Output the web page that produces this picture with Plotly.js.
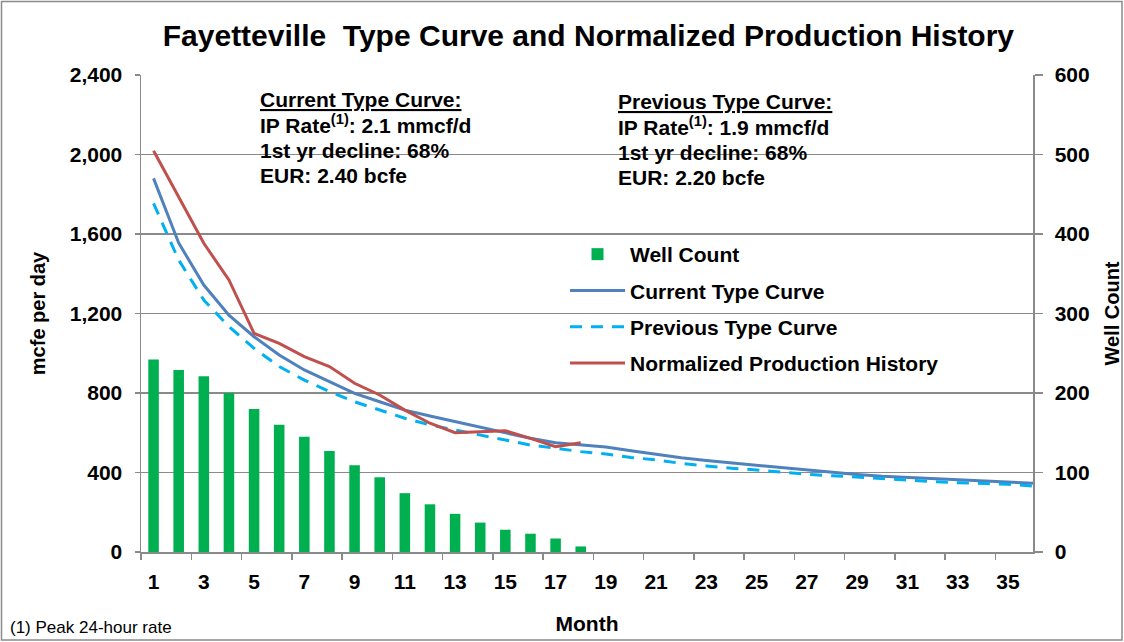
<!DOCTYPE html>
<html>
<head>
<meta charset="utf-8">
<script src="https://cdn.plot.ly/plotly-3.0.1.min.js"></script>
<style>
html,body{margin:0;padding:0;background:#fff;}
#chart{width:1124px;height:642px;}
</style>
</head>
<body>
<div id="chart"></div>
<script>
const months = [1,2,3,4,5,6,7,8,9,10,11,12,13,14,15,16,17,18,19,20,21,22,23,24,25,26,27,28,29,30,31,32,33,34,35,36];
const historyMonths = [1,2,3,4,5,6,7,8,9,10,11,12,13,14,15,16,17,18];
const wellCount = [242,229,221,200,180,160,145,127,109,94,74,60,48,37,28,23,17,7];
const currentTypeCurve = [1880,1555,1343,1192,1083,991,916,857,798,756,714,684,656,626,597,572,550,538,528,510,492,474,460,448,436,424,412,401,390,381,375,370,365,359,354,346];
const previousTypeCurve = [1754,1469,1268,1134,1025,933,865,807,756,714,673,639,614,589,564,538,522,505,493,476,463,446,433,421,413,401,391,384,376,371,362,354,349,346,341,332];
const normalizedHistory = [2019,1788,1553,1369,1100,1050,983,933,849,790,714,648,600,605,610,572,530,550];
const leftTicks = [0,400,800,1200,1600,2000,2400];
const rightTicks = [0,100,200,300,400,500,600];
const currentText = ['<u>Current Type Curve:</u>','IP Rate<sup>(1)</sup>: 2.1 mmcf/d','1st yr decline: 68%','EUR: 2.40 bcfe'];
const previousText = ['<u>Previous Type Curve:</u>','IP Rate<sup>(1)</sup>: 1.9 mmcf/d','1st yr decline: 68%','EUR: 2.20 bcfe'];

const FONT = 'Liberation Sans, Arial, sans-serif';
const GRID = '#8a8a8a';

const traces = [
  {type:'bar', name:'Well Count', x:historyMonths, y:wellCount, yaxis:'y', width:0.42,
   marker:{color:'#00B050'}, legendgroup:'a', hoverinfo:'skip'},
  {type:'scatter', mode:'lines', name:'Current Type Curve', x:months, y:currentTypeCurve, yaxis:'y2',
   line:{color:'#4F81BD', width:3}, legendgroup:'b', hoverinfo:'skip'},
  {type:'scatter', mode:'lines', name:'Previous Type Curve', x:months, y:previousTypeCurve, yaxis:'y2',
   line:{color:'#00B0F0', width:3, dash:'12px,9px'}, legendgroup:'c', hoverinfo:'skip'},
  {type:'scatter', mode:'lines', name:'Normalized Production History', x:historyMonths, y:normalizedHistory, yaxis:'y2',
   line:{color:'#C0504D', width:3}, legendgroup:'d', hoverinfo:'skip'}
];

const ann = [];
function addBlock(lines, x, ys){
  lines.forEach((t,i)=>{
    ann.push({xref:'paper', yref:'paper', x:x, y:ys[i], xanchor:'left', yanchor:'middle',
      text:'<b>'+t+'</b>', showarrow:false, font:{family:FONT, size:21, color:'#000'}});
  });
}
addBlock(currentText, 0.1312, [0.948,0.897,0.841,0.789]);
addBlock(previousText, 0.5325, [0.944,0.894,0.838,0.785]);
ann.push({xref:'paper', yref:'paper', x:(8-141)/892, y:(552-627)/477, xanchor:'left', yanchor:'middle',
  text:'(1) Peak 24-hour rate', showarrow:false, font:{family:FONT, size:17, color:'#000'}});

const layout = {
  width:1124, height:642,
  margin:{l:141, r:91, t:75, b:90},
  paper_bgcolor:'#fff', plot_bgcolor:'#fff',
  title:{text:'<b>Fayetteville  Type Curve and Normalized Production History</b>',
    font:{family:FONT, size:30, color:'#000'}, x:0.5235, xref:'container', y:1-35/642, yref:'container', yanchor:'middle', xanchor:'center'},
  showlegend:true,
  legend:{x:(565-141)/892, y:(552-234)/477, xanchor:'left', yanchor:'top', bgcolor:'rgba(0,0,0,0)',
    font:{family:FONT, size:21, color:'#000', weight:'bold'}, traceorder:'grouped', tracegroupgap:6, itemwidth:55},
  xaxis:{type:'category', categoryorder:'array', categoryarray:months, dtick:2, tickson:'boundaries', tickangle:0,
    ticks:'outside', ticklen:6, tickcolor:GRID, tickwidth:1.5, showline:true, linecolor:GRID, linewidth:1.5,
    showgrid:false, tickfont:{family:FONT, size:21, color:'#000', weight:'bold'}, ticklabelstandoff:10,
    title:{text:'<b>Month</b>', font:{family:FONT, size:21, color:'#000'}, standoff:24}, fixedrange:true},
  yaxis:{side:'right', range:[0,600], tickvals:rightTicks, ticks:'outside', ticklen:8, tickcolor:GRID, tickwidth:1.5,
    showline:true, linecolor:GRID, linewidth:1.5, showgrid:true, gridcolor:GRID, gridwidth:1.5, zeroline:false,
    tickfont:{family:FONT, size:21, color:'#000', weight:'bold'}, ticklabelstandoff:8,
    title:{text:'<b>Well Count</b>', font:{family:FONT, size:20, color:'#000'}, standoff:16}, fixedrange:true},
  yaxis2:{side:'left', overlaying:'y', range:[0,2400], tickvals:leftTicks, tickformat:',d', ticks:'outside', ticklen:5,
    tickcolor:GRID, tickwidth:1.5, showline:true, linecolor:GRID, linewidth:1.5, showgrid:false, zeroline:false,
    tickfont:{family:FONT, size:21, color:'#000', weight:'bold'}, ticklabelstandoff:8,
    title:{text:'<b>mcfe per day</b>', font:{family:FONT, size:20, color:'#000'}, standoff:18}, fixedrange:true},
  annotations:ann,
  shapes:[
    {type:'rect', xref:'paper', yref:'paper', x0:0.1256, x1:0.4787, y0:0.748, y1:0.985, fillcolor:'#fff', line:{width:0}, layer:'between'},
    {type:'rect', xref:'paper', yref:'paper', x0:0.5235, x1:0.8789, y0:0.748, y1:0.985, fillcolor:'#fff', line:{width:0}, layer:'between'},
    {type:'rect', xref:'paper', yref:'paper', x0:(1.5-141)/892, x1:(1122-141)/892, y0:(552-640)/477, y1:(552-1.5)/477,
     fillcolor:'rgba(0,0,0,0)', line:{color:'#8a8a8a', width:1.5}, layer:'above'}
  ]
};

Plotly.newPlot('chart', traces, layout, {staticPlot:true, displayModeBar:false});
</script>
</body>
</html>
